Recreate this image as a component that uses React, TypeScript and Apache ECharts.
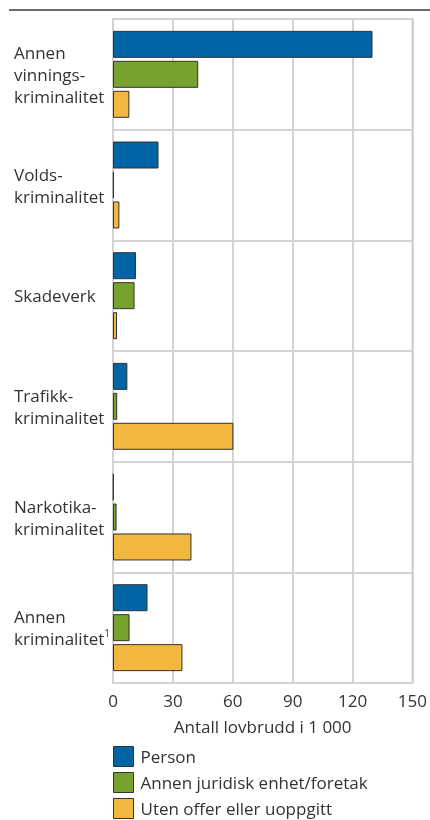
import React, { useEffect, useRef } from "react";
import * as echarts from "echarts";

const categories = [
  "Annen\nvinnings-\nkriminalitet",
  "Volds-\nkriminalitet",
  "Skadeverk",
  "Trafikk-\nkriminalitet",
  "Narkotika-\nkriminalitet",
  "Annen\nkriminalitet{sup|1}",
];
const seriesNames = ["Person", "Annen juridisk enhet/foretak", "Uten offer eller uoppgitt"];
const person = [130, 22.8, 11.5, 7.2, 0.3, 17.3];
const juridisk = [42.7, 0.4, 10.8, 2.1, 1.8, 8.3];
const utenOffer = [8.2, 3.2, 2, 60.3, 39.3, 34.8];
const xTicks = [0, 30, 60, 90, 120, 150];
const axisTitle = "Antall lovbrudd i 1 000";
const colors = ["#0064a5", "#77a22f", "#f3b73f"];

const FONT = "'Open Sans', sans-serif";
const TEXT = "#333333";
const FS = 17;

export default function App() {
  const ref = useRef<HTMLDivElement>(null);
  useEffect(() => {
    if (!ref.current) return;
    const chart = echarts.init(ref.current, null, { renderer: "svg" });
    const values = [person, juridisk, utenOffer];
    chart.setOption({
      animation: false,
      textStyle: { fontFamily: FONT },
      grid: {
        left: 113,
        top: 19,
        width: 300,
        height: 664,
        show: true,
        borderColor: "#d3d3d3",
        borderWidth: 2,
      },
      graphic: [
        {
          type: "line",
          shape: { x1: 9, y1: 10, x2: 430, y2: 10 },
          style: { stroke: "#3a3a3a", lineWidth: 1.5 },
        },
      ],
      legend: {
        orient: "vertical",
        left: 113,
        top: 746,
        height: 80,
        padding: 0,
        itemWidth: 20,
        itemHeight: 20,
        itemGap: 5,
        icon: "rect",
        itemStyle: { borderColor: "#333", borderWidth: 1 },
        textStyle: { fontFamily: FONT, fontSize: FS, lineHeight: 20, color: TEXT, padding: [0, 0, 0, 2] },
        data: seriesNames,
      },
      xAxis: {
        type: "value",
        min: 0,
        max: xTicks[xTicks.length - 1],
        interval: 30,
        axisLine: { show: false },
        axisTick: { show: false },
        splitLine: { show: true, lineStyle: { color: "#d3d3d3", width: 2 } },
        axisLabel: { fontFamily: FONT, fontSize: FS, color: TEXT, margin: 9 },
        name: axisTitle,
        nameLocation: "middle",
        nameGap: 35,
        nameTextStyle: { fontFamily: FONT, fontSize: FS, color: TEXT },
      },
      yAxis: {
        type: "category",
        inverse: true,
        data: categories,
        axisLine: { show: true, lineStyle: { color: "#d3d3d3", width: 2 } },
        axisTick: { show: false },
        splitLine: { show: true, lineStyle: { color: "#d3d3d3", width: 2 } },
        axisLabel: {
          fontFamily: FONT,
          fontSize: FS,
          color: TEXT,
          align: "left",
          margin: 99,
          lineHeight: 22,
          rich: {
            sup: { fontSize: 10, verticalAlign: "top", color: TEXT, fontFamily: FONT, lineHeight: 22, padding: [0, 0, 14, 0] },
          },
        },
      },
      series: seriesNames.map((name, i) => ({
        name,
        type: "bar",
        data: values[i],
        barWidth: 27,
        barGap: "11%",
        itemStyle: { color: colors[i], borderColor: "#333", borderWidth: 1 },
      })),
    });
    return () => chart.dispose();
  }, []);
  return <div ref={ref} style={{ position: "fixed", left: 0, top: 0, width: 430, height: 820 }} />;
}
